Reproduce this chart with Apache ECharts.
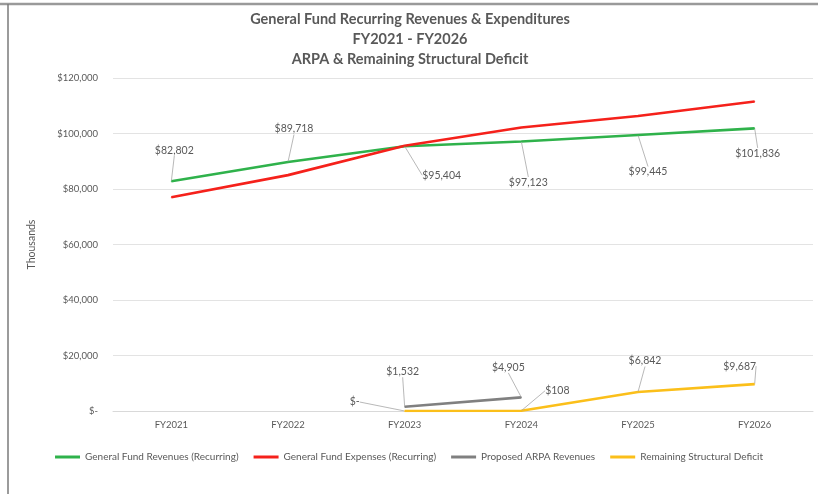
<!DOCTYPE html>
<html>
<head>
<meta charset="utf-8">
<script src="https://cdn.jsdelivr.net/npm/echarts@6/dist/echarts.min.js"></script>
<style>html,body{margin:0;padding:0;background:#fff;}#c{width:818px;height:494px;}</style>
</head>
<body>
<div id="c"></div>
<script>
var categories = ['FY2021', 'FY2022', 'FY2023', 'FY2024', 'FY2025', 'FY2026'];
var revenues = [82802, 89718, 95404, 97123, 99445, 101836];
var expenses = [77000, 85000, 95600, 102136, 106287, 111523];
var arpa = [null, null, 1532, 4905, null, null];
var deficit = [null, null, 0, 108, 6842, 9687];
var yTicks = [0, 20000, 40000, 60000, 80000, 100000, 120000];

// label offsets (px) from each point to the label center
var offsets = {
  0: [[3, -31], [6, -33], [37, 29], [7, 41], [10, 37], [3, 25]],
  2: [null, null, [-2, -35], [-13, -30], null, null],
  3: [null, null, [-50, -9], [36, -20], [7, -31], [-15, -18]]
};

function money(v) {
  if (v === 0) return '$-';
  return '$' + v.toLocaleString('en-US');
}

var FONT = 'Lato';
var TXT = '#595959';

function mkSeries(name, data, color, idx, labels) {
  return {
    name: name,
    type: 'line',
    data: data,
    symbol: 'circle',
    symbolSize: 1,
    itemStyle: { color: color },
    lineStyle: { color: color, width: 2.6 },
    emphasis: { disabled: true },
    animation: false,
    label: labels ? {
      show: true,
      position: 'inside',
      fontFamily: FONT,
      fontSize: 10.5,
      color: TXT,
      formatter: function (p) { return money(p.value); }
    } : { show: false },
    labelLine: { show: !!labels, lineStyle: { color: '#a6a6a6', width: 0.8 } },
    labelLayout: labels ? function (p) {
      var o = offsets[idx][p.dataIndex];
      if (!o) return {};
      return { dx: o[0], dy: o[1] };
    } : undefined
  };
}

var chart = echarts.init(document.getElementById('c'), null, { renderer: 'canvas' });
chart.setOption({
  backgroundColor: '#fff',
  animation: false,
  title: {
    text: 'General Fund Recurring Revenues & Expenditures\nFY2021 - FY2026\nARPA & Remaining Structural Deficit',
    left: 405,
    textAlign: 'center',
    top: 4,
    textStyle: { fontFamily: FONT, fontSize: 14.5, fontWeight: 'bold', color: TXT, lineHeight: 20 }
  },
  legend: {
    bottom: 27,
    left: 'center',
    icon: 'rect',
    itemWidth: 25,
    itemHeight: 3,
    itemGap: 15,
    textStyle: { fontFamily: FONT, fontSize: 10, color: TXT },
    data: ['General Fund Revenues (Recurring)', 'General Fund Expenses (Recurring)', 'Proposed ARPA Revenues', 'Remaining Structural Deficit']
  },
  grid: { left: 113, right: 5, top: 78, bottom: 83, containLabel: false },
  xAxis: {
    type: 'category',
    data: categories,
    boundaryGap: true,
    axisLine: { show: true, lineStyle: { color: '#d9d9d9', width: 1 } },
    axisTick: { show: false },
    axisLabel: { fontFamily: FONT, fontSize: 9.5, color: TXT, margin: 9 }
  },
  yAxis: {
    type: 'value',
    min: 0,
    max: 120000,
    interval: 20000,
    name: 'Thousands',
    nameLocation: 'middle',
    nameGap: 76,
    nameTextStyle: { fontFamily: FONT, fontSize: 10.5, color: TXT },
    axisLine: { show: false },
    axisTick: { show: false },
    splitLine: { lineStyle: { color: '#e3e3e3', width: 1 } },
    axisLabel: {
      fontFamily: FONT, fontSize: 9.5, color: TXT, margin: 15,
      formatter: function (v) { return yTicks.indexOf(v) >= 0 ? money(v) : ''; }
    }
  },
  graphic: [
    { type: 'line', shape: { x1: 0, y1: 4, x2: 818, y2: 4 }, style: { stroke: '#9a9a9a', lineWidth: 2.5 }, z: 100 },
    { type: 'line', shape: { x1: 8, y1: 4, x2: 8, y2: 494 }, style: { stroke: '#7a7a7a', lineWidth: 1.5 }, z: 100 }
  ],
  series: [
    mkSeries('General Fund Revenues (Recurring)', revenues, '#2fb24b', 0, true),
    mkSeries('General Fund Expenses (Recurring)', expenses, '#f5211b', 1, false),
    mkSeries('Proposed ARPA Revenues', arpa, '#808080', 2, true),
    mkSeries('Remaining Structural Deficit', deficit, '#fbbf1a', 3, true)
  ]
});
</script>
</body>
</html>
